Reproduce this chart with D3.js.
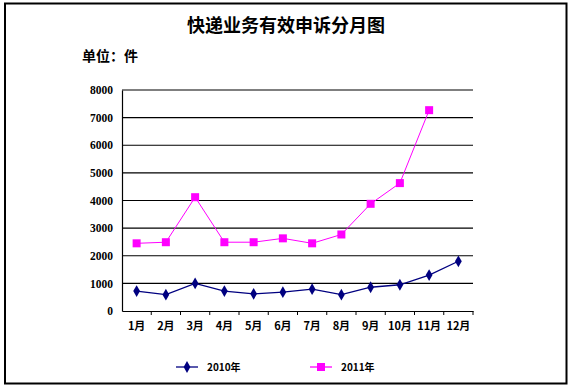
<!DOCTYPE html>
<html>
<head>
<meta charset="utf-8">
<script src="https://cdn.jsdelivr.net/npm/d3@7"></script>
<style>
  body { margin: 0; background: #fff; }
  text { font-family: "Noto Sans CJK SC", sans-serif; }
</style>
</head>
<body>
<div id="chart"></div>
<script>
// data
const months = ["1月","2月","3月","4月","5月","6月","7月","8月","9月","10月","11月","12月"];
const values2010 = [720, 590, 1000, 720, 620, 680, 790, 590, 860, 950, 1300, 1800];
const values2011 = [2450, 2490, 4120, 2490, 2490, 2630, 2450, 2770, 3880, 4630, 7270, null];
const yTicks = [0, 1000, 2000, 3000, 4000, 5000, 6000, 7000, 8000];

const W = 572, H = 388;
const plot = {left: 122, right: 473, top: 90, bottom: 311};

const svg = d3.select("#chart").append("svg")
  .attr("width", W)
  .attr("height", H);

// outer frame
svg.append("rect")
  .attr("x", 5).attr("y", 3.5)
  .attr("width", 561.5).attr("height", 380)
  .attr("fill", "white")
  .attr("stroke", "black")
  .attr("stroke-width", 2);

// title
svg.append("text")
  .attr("x", 286).attr("y", 32)
  .attr("text-anchor", "middle")
  .style("font-size", "18px")
  .style("font-weight", "bold")
  .text("快递业务有效申诉分月图");

svg.append("text")
  .attr("x", 82).attr("y", 61)
  .style("font-size", "14px")
  .style("font-weight", "bold")
  .text("单位：件");

// scales
const x = d3.scaleBand()
  .domain(months)
  .range([plot.left, plot.right]);

const y = d3.scaleLinear()
  .domain([0, 8000])
  .range([plot.bottom, plot.top]);

// grid lines
svg.append("g")
  .selectAll("line")
  .data(yTicks.filter(d => d > 0))
  .join("line")
    .attr("x1", plot.left).attr("x2", plot.right)
    .attr("y1", d => y(d)).attr("y2", d => y(d))
    .attr("stroke", "black")
    .attr("stroke-width", 1.2);

// Y axis
const yAxis = svg.append("g")
  .attr("transform", `translate(${plot.left},0)`)
  .call(d3.axisLeft(y).tickValues(yTicks).tickFormat(d3.format("d")).tickSize(0).tickPadding(9));
yAxis.select(".domain").attr("stroke", "black").attr("stroke-width", 1.2);
yAxis.selectAll("text")
  .style("font-family", "'Liberation Serif', serif")
  .style("font-weight", "bold")
  .style("font-size", "11.5px");

// X axis: ticks at band edges
const xAxis = svg.append("g")
  .attr("transform", `translate(0,${plot.bottom})`)
  .call(d3.axisBottom(x).tickSize(0).tickPadding(11));
xAxis.select(".domain").attr("stroke", "black").attr("stroke-width", 1.2);
xAxis.selectAll("text")
  .style("font-family", "'Noto Sans CJK SC', sans-serif")
  .style("font-weight", "bold")
  .style("font-size", "11px");
xAxis.selectAll(".edge")
  .data(months.slice(1).concat(["end"]))
  .join("line")
    .attr("class", "edge")
    .attr("x1", (d, i) => plot.left + x.step() * (i + 1))
    .attr("x2", (d, i) => plot.left + x.step() * (i + 1))
    .attr("y1", 0).attr("y2", 4)
    .attr("stroke", "black");

const cx = d => x(d) + x.bandwidth() / 2;

// 2011 series
const d2011 = months.map((m, i) => ({m, v: values2011[i]})).filter(d => d.v != null);
svg.append("path")
  .datum(d2011)
  .attr("fill", "none")
  .attr("stroke", "#FF00FF")
  .attr("stroke-width", 1)
  .attr("d", d3.line().x(d => cx(d.m)).y(d => y(d.v)));
svg.append("g")
  .selectAll("rect")
  .data(d2011)
  .join("rect")
    .attr("x", d => cx(d.m) - 4)
    .attr("y", d => y(d.v) - 4)
    .attr("width", 8).attr("height", 8)
    .attr("fill", "#FF00FF");

// 2010 series
const d2010 = months.map((m, i) => ({m, v: values2010[i]}));
svg.append("path")
  .datum(d2010)
  .attr("fill", "none")
  .attr("stroke", "#000080")
  .attr("stroke-width", 1.3)
  .attr("d", d3.line().x(d => cx(d.m)).y(d => y(d.v)));
const diamond = d3.symbol().type(d3.symbolDiamond).size(40);
svg.append("g")
  .selectAll("path")
  .data(d2010)
  .join("path")
    .attr("transform", d => `translate(${cx(d.m)},${y(d.v)})`)
    .attr("d", diamond)
    .attr("fill", "#000080");

// legend
const legend = [
  {name: "2010年", color: "#000080", x: 176, shape: "diamond"},
  {name: "2011年", color: "#FF00FF", x: 310, shape: "square"}
];
const lg = svg.append("g").selectAll("g")
  .data(legend)
  .join("g")
    .attr("transform", d => `translate(${d.x},367)`);
lg.append("line")
  .attr("x1", 0).attr("x2", 22)
  .attr("stroke", d => d.color)
  .attr("stroke-width", 1.3);
lg.filter(d => d.shape === "diamond").append("path")
  .attr("transform", "translate(11,0)")
  .attr("d", diamond)
  .attr("fill", d => d.color);
lg.filter(d => d.shape === "square").append("rect")
  .attr("x", 7).attr("y", -4).attr("width", 8).attr("height", 8)
  .attr("fill", d => d.color);
lg.append("text")
  .attr("x", 31).attr("y", 4)
  .style("font-size", "10px")
  .style("font-weight", "bold")
  .text(d => d.name);
</script>
</body>
</html>
